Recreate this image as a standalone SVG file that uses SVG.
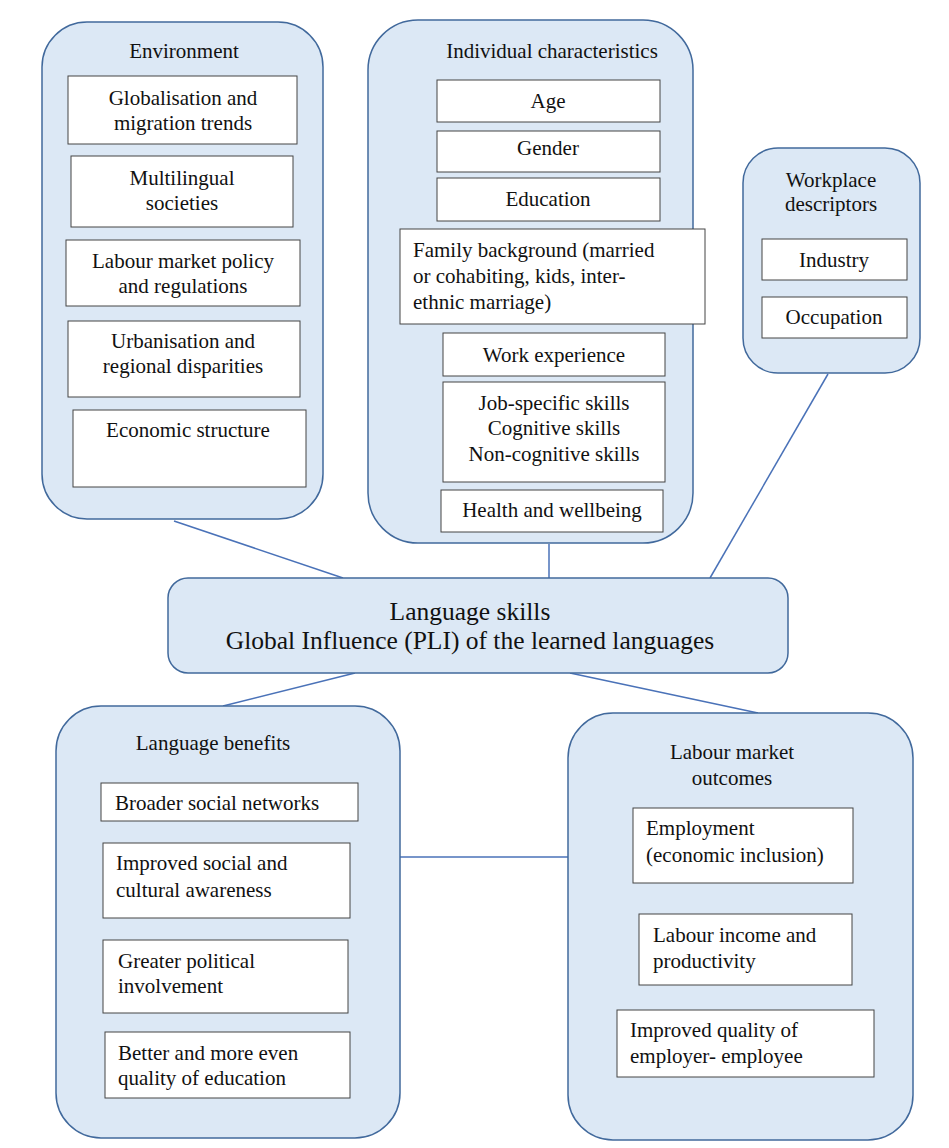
<svg xmlns="http://www.w3.org/2000/svg" width="949" height="1148" viewBox="0 0 949 1148" font-family="'Liberation Serif', 'DejaVu Serif', serif">
<style>
.c{fill:#dce8f5;stroke:#41699c;stroke-width:1.5}
.b{fill:#ffffff;stroke:#444;stroke-width:1}
text{font-family:'Liberation Serif','DejaVu Serif',serif;font-size:21px;fill:#111}
.m{text-anchor:middle}
.big{font-size:25.5px}
.ln{stroke:#4a72b8;stroke-width:1.5;fill:none}
</style>
<rect width="949" height="1148" fill="#ffffff"/>
<g id="connectors">
<line class="ln" x1="174" y1="521" x2="343" y2="578"/>
<line class="ln" x1="549" y1="544" x2="549" y2="578"/>
<line class="ln" x1="828" y1="374" x2="710" y2="578"/>
<line class="ln" x1="355" y1="673" x2="223" y2="706"/>
<line class="ln" x1="570" y1="673" x2="758" y2="713"/>
<line class="ln" x1="400" y1="857" x2="568" y2="857"/>
</g>
<g id="environment">
<rect class="c" x="42" y="22" width="281" height="497" rx="45"/>
<text class="m" x="184" y="58">Environment</text>
<rect class="b" x="68" y="76" width="229" height="68"/>
<text class="m" x="183" y="105">Globalisation and</text>
<text class="m" x="183" y="130">migration trends</text>
<rect class="b" x="71" y="156" width="222" height="71"/>
<text class="m" x="182" y="185">Multilingual</text>
<text class="m" x="182" y="210">societies</text>
<rect class="b" x="66" y="240" width="234" height="66"/>
<text class="m" x="183" y="268">Labour market policy</text>
<text class="m" x="183" y="293">and regulations</text>
<rect class="b" x="68" y="321" width="232" height="76"/>
<text class="m" x="183" y="348">Urbanisation and</text>
<text class="m" x="183" y="373">regional disparities</text>
<rect class="b" x="73" y="410" width="233" height="77"/>
<text class="m" x="188" y="437">Economic structure</text>
</g>
<g id="individual">
<rect class="c" x="368" y="20" width="325" height="523" rx="50"/>
<text class="m" x="552" y="58">Individual characteristics</text>
<rect class="b" x="437" y="80" width="223" height="42"/>
<text class="m" x="548" y="108">Age</text>
<rect class="b" x="437" y="131" width="223" height="41"/>
<text class="m" x="548" y="155">Gender</text>
<rect class="b" x="437" y="178" width="223" height="43"/>
<text class="m" x="548" y="206">Education</text>
<rect class="b" x="400" y="229" width="305" height="95"/>
<text x="413" y="257">Family background (married</text>
<text x="413" y="283">or cohabiting, kids, inter-</text>
<text x="413" y="309">ethnic marriage)</text>
<rect class="b" x="443" y="333" width="222" height="43"/>
<text class="m" x="554" y="362">Work experience</text>
<rect class="b" x="443" y="382" width="222" height="100"/>
<text class="m" x="554" y="410">Job-specific skills</text>
<text class="m" x="554" y="435">Cognitive skills</text>
<text class="m" x="554" y="461">Non-cognitive skills</text>
<rect class="b" x="441" y="490" width="222" height="42"/>
<text class="m" x="552" y="517">Health and wellbeing</text>
</g>
<g id="workplace">
<rect class="c" x="743" y="148" width="177" height="225" rx="35"/>
<text class="m" x="831" y="187">Workplace</text>
<text class="m" x="831" y="211">descriptors</text>
<rect class="b" x="762" y="239" width="145" height="41"/>
<text class="m" x="834" y="267">Industry</text>
<rect class="b" x="762" y="297" width="145" height="41"/>
<text class="m" x="834" y="324">Occupation</text>
</g>
<g id="language-skills">
<rect class="c" x="168" y="578" width="620" height="95" rx="20"/>
<text class="m big" x="470" y="620">Language skills</text>
<text class="m big" x="470" y="649">Global Influence (PLI) of the learned languages</text>
</g>
<g id="language-benefits">
<rect class="c" x="56" y="706" width="344" height="432" rx="45"/>
<text class="m" x="213" y="750">Language benefits</text>
<rect class="b" x="101" y="783" width="257" height="38"/>
<text x="115" y="810">Broader social networks</text>
<rect class="b" x="103" y="843" width="247" height="75"/>
<text x="116" y="870">Improved social and</text>
<text x="116" y="897">cultural awareness</text>
<rect class="b" x="103" y="940" width="245" height="73"/>
<text x="118" y="968">Greater political</text>
<text x="118" y="993">involvement</text>
<rect class="b" x="105" y="1032" width="245" height="66"/>
<text x="118" y="1060">Better and more even</text>
<text x="118" y="1085">quality of education</text>
</g>
<g id="labour-market-outcomes">
<rect class="c" x="568" y="713" width="345" height="427" rx="45"/>
<text class="m" x="732" y="759">Labour market</text>
<text class="m" x="732" y="785">outcomes</text>
<rect class="b" x="633" y="808" width="220" height="75"/>
<text x="646" y="835">Employment</text>
<text x="646" y="862">(economic inclusion)</text>
<rect class="b" x="639" y="914" width="213" height="71"/>
<text x="653" y="942">Labour income and</text>
<text x="653" y="968">productivity</text>
<rect class="b" x="617" y="1010" width="257" height="67"/>
<text x="630" y="1037">Improved quality of</text>
<text x="630" y="1063">employer- employee</text>
</g>
</svg>
